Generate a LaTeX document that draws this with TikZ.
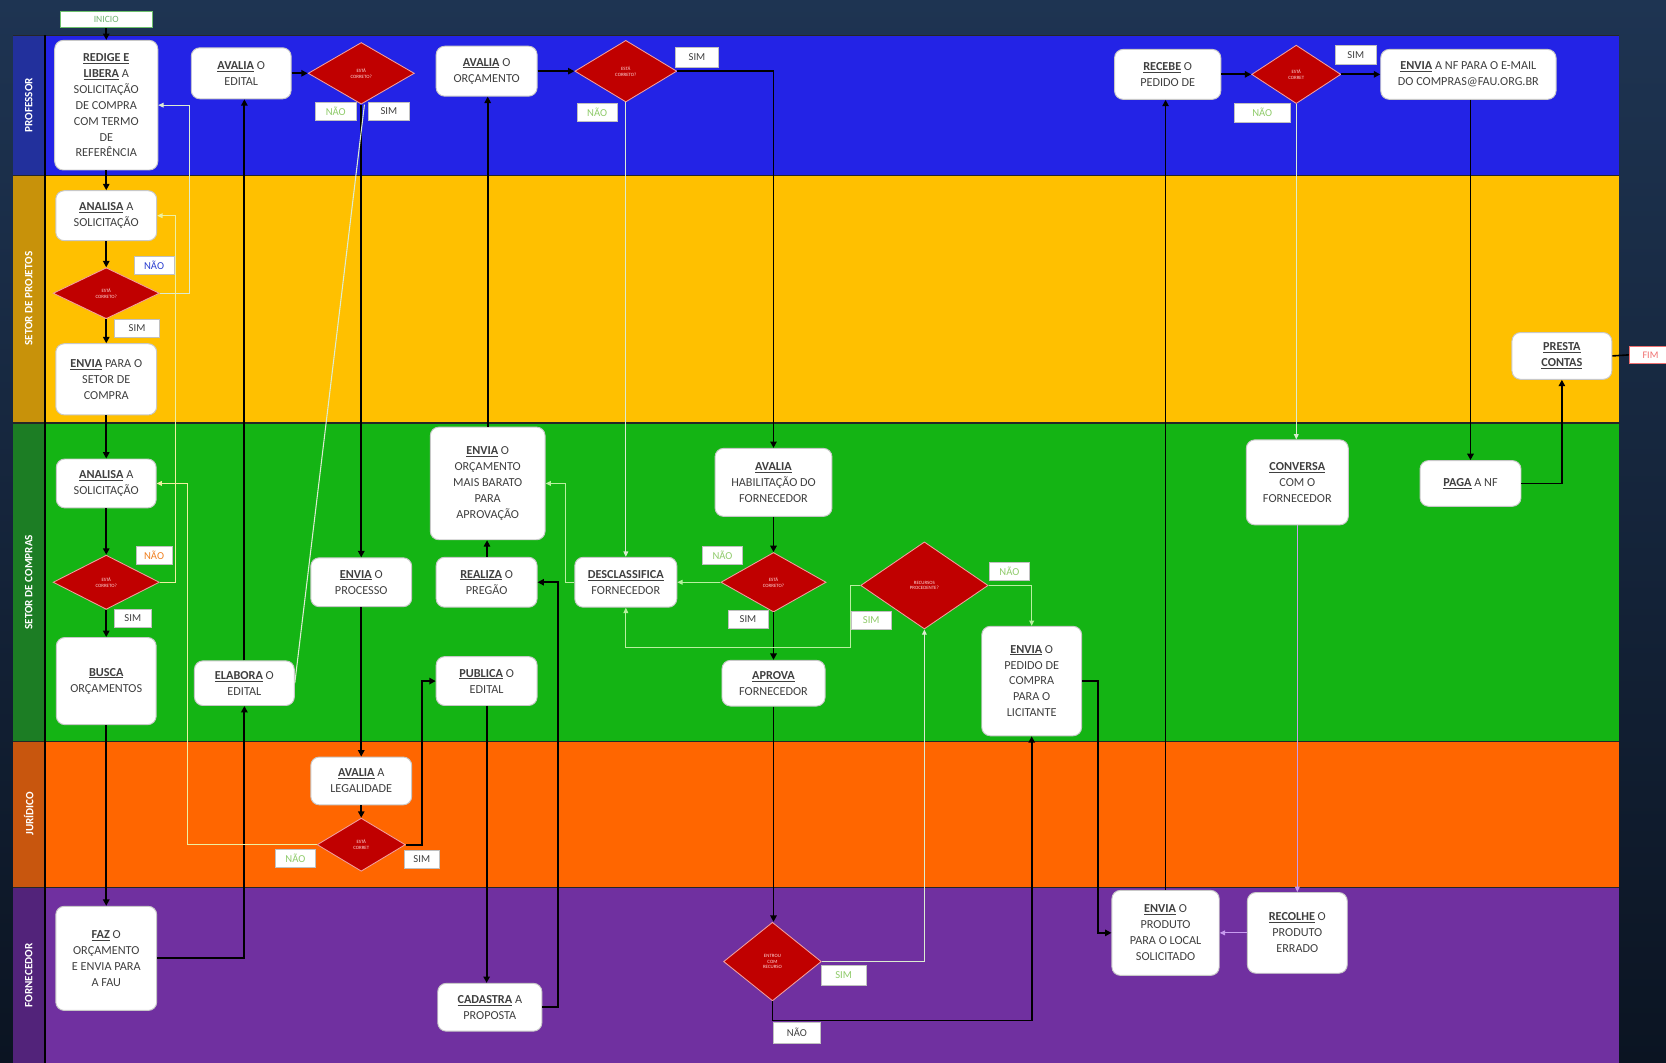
\documentclass[tikz,border=0pt]{standalone}
\usepackage{fontspec}
\setmainfont{Carlito}
\usetikzlibrary{shapes.geometric,arrows.meta,calc}

\definecolor{bgTop}{HTML}{1E3452}
\definecolor{bgBot}{HTML}{0B1422}
\definecolor{profBlue}{HTML}{2323E6}
\definecolor{profCol}{HTML}{22309C}
\definecolor{projGold}{HTML}{FFC000}
\definecolor{projCol}{HTML}{C8920A}
\definecolor{compGreen}{HTML}{14B414}
\definecolor{compCol}{HTML}{1C7D24}
\definecolor{jurOrange}{HTML}{FF6600}
\definecolor{jurCol}{HTML}{C8560E}
\definecolor{fornPurple}{HTML}{7030A0}
\definecolor{fornCol}{HTML}{52237A}
\definecolor{txt}{HTML}{404040}
\definecolor{boxline}{HTML}{C8C8C8}
\definecolor{diared}{HTML}{C00000}
\definecolor{diaedge}{HTML}{F2A0A0}
\definecolor{diatext}{HTML}{FFD8D8}
\definecolor{tagline}{HTML}{C0C0C0}
\definecolor{tagGreen}{HTML}{8FCB6A}
\definecolor{tagBlue}{HTML}{2A3FD0}
\definecolor{tagOrange}{HTML}{F08020}
\definecolor{lgWhite}{HTML}{DCEBD2}
\definecolor{lgGreen}{HTML}{B8F0A0}
\definecolor{lgYellow}{HTML}{EEF0A0}
\definecolor{lilac}{HTML}{C89CF0}
\definecolor{startGreen}{HTML}{6CC06C}
\definecolor{endRed}{HTML}{F07070}

\newcommand{\kw}[1]{\textbf{\underline{#1}}}
\newcommand{\boxfont}{\fontsize{11.5}{15}\selectfont}

\begin{document}
\begin{tikzpicture}[x=1pt,y=-1pt,
  box/.style={draw=boxline, line width=0.9pt, fill=white, rounded corners=8pt,
    text=txt, font=\boxfont, align=center, inner sep=1pt},
  dia/.style={diamond, draw=diaedge, line width=0.8pt, fill=diared, text=diatext,
    font=\fontsize{4.6}{5.4}\selectfont, align=center, inner sep=0pt},
  tag/.style={draw=tagline, line width=0.6pt, fill=white, text=txt,
    font=\fontsize{10}{10}\selectfont, minimum width=38pt, minimum height=17pt, inner sep=0pt},
  flow/.style={line width=1.7pt, draw=black, -{Triangle[length=6pt,width=6pt]}},
  back/.style={line width=1pt, -{Triangle[length=5pt,width=4.5pt]}},
  lanelabel/.style={rotate=90, text=white, font=\fontsize{10.5}{11}\selectfont\bfseries},
]
\useasboundingbox (0,0) rectangle (1568,1000);

% backdrop
\shade[top color=bgTop, bottom color=bgBot] (0,0) rectangle (1568,1000);

% swimlanes
\fill[profBlue]   (42,33)  rectangle (1524,165);
\fill[projGold]   (42,165) rectangle (1524,398);
\fill[compGreen]  (42,398) rectangle (1524,698);
\fill[jurOrange]  (42,698) rectangle (1524,835);
\fill[fornPurple] (42,835) rectangle (1524,1000);
\fill[profCol]  (12,33)  rectangle (42,165);
\fill[projCol]  (12,165) rectangle (42,398);
\fill[compCol]  (12,398) rectangle (42,698);
\fill[jurCol]   (12,698) rectangle (42,835);
\fill[fornCol]  (12,835) rectangle (42,1000);
\foreach \yy in {165,398,698,835}
  \draw[black!85, line width=1.2pt] (12,\yy) -- (1524,\yy);
\draw[black!85, line width=1pt] (12,33) -- (1524,33);
\draw[black, line width=2pt] (42,33) -- (42,1000);

\node[lanelabel] (labProf) at (27,99)  {PROFESSOR};
\node[lanelabel] (labProj) at (27,281) {SETOR DE PROJETOS};
\node[lanelabel] (labComp) at (27,548) {SETOR DE COMPRAS};
\node[lanelabel] (labJur)  at (27,766) {JURÍDICO};
\node[lanelabel] (labForn) at (27,918) {FORNECEDOR};

% start and end markers
\node[draw=startGreen, line width=0.8pt, fill=white, text=startGreen!80!gray,
  font=\fontsize{9}{9}\selectfont, minimum width=86, minimum height=15, inner sep=0pt]
  (inicio) at (100,18.5) {INICIO};
\node[draw=endRed, line width=0.8pt, fill=white, text=endRed,
  font=\fontsize{9.5}{9.5}\selectfont, minimum width=40, minimum height=16, inner sep=0pt,
  anchor=west] (fim) at (1533,334) {FIM};

% professor
\node[box, minimum width=97, minimum height=122] (redige) at (100,99)
  {\kw{REDIGE E}\\\kw{LIBERA} A\\SOLICITAÇÃO\\DE COMPRA\\COM TERMO\\DE\\REFERÊNCIA};
\node[box, minimum width=94, minimum height=48] (avEdital) at (227,69) {\kw{AVALIA} O\\EDITAL};
\node[dia, minimum width=100, minimum height=58] (d1) at (340,69) {ESTÁ\\CORRETO?};
\node[box, minimum width=95, minimum height=47] (avOrc) at (458,67) {\kw{AVALIA} O\\ORÇAMENTO};
\node[dia, minimum width=96, minimum height=58] (d2) at (589,67) {ESTÁ\\CORRETO?};
\node[box, minimum width=100, minimum height=47] (recebe) at (1099,70) {\kw{RECEBE} O\\PEDIDO DE};
\node[dia, minimum width=84, minimum height=55] (d3) at (1220,70) {ESTÁ\\CORRET};
\node[box, minimum width=165, minimum height=47] (envNF) at (1382,70)
  {\kw{ENVIA} A NF PARA O E-MAIL\\DO COMPRAS@FAU.ORG.BR};

% setor de projetos
\node[box, minimum width=95, minimum height=47] (anaP) at (100,203) {\kw{ANALISA} A\\SOLICITAÇÃO};
\node[dia, minimum width=100, minimum height=48] (d4) at (100,276) {ESTÁ\\CORRETO?};
\node[box, minimum width=95, minimum height=67] (envSet) at (100,357) {\kw{ENVIA} PARA O\\SETOR DE\\COMPRA};
\node[box, minimum width=94, minimum height=44] (presta) at (1470,335) {\kw{PRESTA}\\\kw{CONTAS}};

% setor de compras
\node[box, minimum width=94, minimum height=46] (anaC) at (100,455) {\kw{ANALISA} A\\SOLICITAÇÃO};
\node[dia, minimum width=100, minimum height=51] (d5) at (100,548) {ESTÁ\\CORRETO?};
\node[box, minimum width=94, minimum height=82] (busca) at (100,641) {\kw{BUSCA}\\ORÇAMENTOS};
\node[box, minimum width=94, minimum height=42] (elabora) at (230,643) {\kw{ELABORA} O\\EDITAL};
\node[box, minimum width=95, minimum height=46] (envProc) at (340,548) {\kw{ENVIA} O\\PROCESSO};
\node[box, minimum width=108, minimum height=106] (envOrc) at (459,455)
  {\kw{ENVIA} O\\ORÇAMENTO\\MAIS BARATO\\PARA\\APROVAÇÃO};
\node[box, minimum width=95, minimum height=47] (realiza) at (458,548) {\kw{REALIZA} O\\PREGÃO};
\node[box, minimum width=95, minimum height=46] (publica) at (458,641) {\kw{PUBLICA} O\\EDITAL};
\node[box, minimum width=96, minimum height=47] (descl) at (589,548) {\kw{DESCLASSIFICA}\\FORNECEDOR};
\node[box, minimum width=110, minimum height=64] (avHab) at (728,454) {\kw{AVALIA}\\HABILITAÇÃO DO\\FORNECEDOR};
\node[dia, minimum width=99, minimum height=56] (d6) at (728,548) {ESTÁ\\CORRETO?};
\node[box, minimum width=97, minimum height=43] (aprova) at (728,643) {\kw{APROVA}\\FORNECEDOR};
\node[dia, minimum width=120, minimum height=82] (d7) at (870,551) {RECURSOS\\PROCEDENTE?};
\node[box, minimum width=94, minimum height=103] (envPed) at (971,641)
  {\kw{ENVIA} O\\PEDIDO DE\\COMPRA\\PARA O\\LICITANTE};
\node[box, minimum width=96, minimum height=80] (conversa) at (1221,454) {\kw{CONVERSA}\\COM O\\FORNECEDOR};
\node[box, minimum width=95, minimum height=43] (paga) at (1384,455) {\kw{PAGA} A NF};

% juridico
\node[box, minimum width=95, minimum height=45] (legal) at (340,735) {\kw{AVALIA} A\\LEGALIDADE};
\node[dia, minimum width=83, minimum height=50] (d8) at (340,795) {ESTÁ\\CORRET};

% fornecedor
\node[box, minimum width=95, minimum height=98] (faz) at (100,902) {\kw{FAZ} O\\ORÇAMENTO\\E ENVIA PARA\\A FAU};
\node[box, minimum width=98, minimum height=45] (cadastra) at (461,948) {\kw{CADASTRA} A\\PROPOSTA};
\node[dia, minimum width=92, minimum height=74] (d9) at (727,905) {ENTROU\\COM\\RECURSO};
\node[box, minimum width=101, minimum height=80] (produto) at (1097,878)
  {\kw{ENVIA} O\\PRODUTO\\PARA O LOCAL\\SOLICITADO};
\node[box, minimum width=94, minimum height=76] (recolhe) at (1221,878) {\kw{RECOLHE} O\\PRODUTO\\ERRADO};

% main flow
\draw[flow] (inicio) -- (redige);
\draw[flow] (redige) -- (anaP);
\draw[flow] (anaP) -- (d4);
\draw[flow] (d4) -- (envSet);
\draw[flow] (envSet) -- (anaC);
\draw[flow] (anaC) -- (d5);
\draw[flow] (d5) -- (busca);
\draw[flow] (busca) -- (faz);
\draw[flow] (faz.east) -| (elabora.south);
\draw[flow] (elabora.north) -- (elabora.north |- avEdital.south);
\draw[flow] (avEdital) -- (d1);
\draw[flow] (d1.south) -- (envProc.north);
\draw[flow] (envProc) -- (legal);
\draw[flow] (legal) -- (d8);
\draw[flow] (d8.east) -- ++(15,0) |- (publica.west);
\draw[flow] (publica.south) -- (publica.south |- cadastra.north);
\draw[flow] (cadastra.east) -- ++(15,0) |- (realiza.east);
\draw[flow] (realiza) -- (envOrc);
\draw[flow] (envOrc.north) -- (envOrc.north |- avOrc.south);
\draw[flow] (avOrc) -- (d2);
\draw[flow] (d2.east) -| (avHab.north);
\draw[flow] (avHab) -- (d6);
\draw[flow] (d6) -- (aprova);
\draw[flow] (aprova.south) -- (aprova.south |- d9.north);
\draw[flow] (d9.south) -- ++(0,18) -| (envPed.south);
\draw[flow] (envPed.east) -- ++(15,0) |- (produto.west);
\draw[flow] (produto.north) -- (produto.north |- recebe.south);
\draw[flow] (recebe) -- (d3);
\draw[flow] (d3) -- (envNF);
\draw[flow] (envNF.south -| paga.north) -- (paga.north);
\draw[flow] (paga.east) -| (presta.south);
\draw[black, line width=1.5pt] (presta.east) -- (fim.west);

% return paths
\draw[back, draw=lgWhite] (d4.east) -- ++(28,0) |- (redige.east);
\draw[back, draw=lgYellow] (d5.east) -- ++(15,0) |- (anaP.east);
\draw[draw=lgWhite, line width=1pt] ($(d1.south)+(3,0)$) -- (elabora.east);
\draw[back, draw=lgYellow] (d8.west) -- ++(-122,0) |- (anaC.east);
\draw[back, draw=lgWhite] (d2.south) -- (descl.north);
\draw[back, draw=lgGreen] (descl.west) -- ++(-8,0) |- (envOrc.east);
\draw[back, draw=lgGreen] (d6.west) -- (descl.east);
\draw[back, draw=lgWhite] (d9.east) -| (d7.south);
\draw[back, draw=lgGreen] (d7.west) -- ++(-9,0) -- ++(0,58) -| (descl.south);
\draw[back, draw=lgGreen] (d7.east) -| (envPed.north);
\draw[back, draw=lgWhite] (d3.south) -- (d3.south |- conversa.north);
\draw[back, draw=lilac] (conversa.south) -- (conversa.south |- recolhe.north);
\draw[back, draw=lilac] (recolhe) -- (produto);

% decision tags
\node[tag, text=tagGreen] (t1n) at (316,105) {NÃO};
\node[tag] (t1s) at (366,105) {SIM};
\node[tag, minimum width=41, minimum height=19] (t2s) at (656,54) {SIM};
\node[tag, text=tagGreen] (t2n) at (562,106) {NÃO};
\node[tag, minimum height=18] (t3s) at (1276,52) {SIM};
\node[tag, text=tagGreen, minimum width=52, minimum height=18] (t3n) at (1188,106) {NÃO};
\node[tag, text=tagBlue] (t4n) at (145,250) {NÃO};
\node[tag, minimum width=42] (t4s) at (129,309) {SIM};
\node[tag, text=tagOrange, minimum width=34] (t5n) at (145,523) {NÃO};
\node[tag, minimum width=35] (t5s) at (125,582) {SIM};
\node[tag, text=tagGreen] (t6n) at (680,523) {NÃO};
\node[tag] (t6s) at (704,583) {SIM};
\node[tag, text=tagGreen] (t7n) at (950,538) {NÃO};
\node[tag, text=tagGreen] (t7s) at (820,584) {SIM};
\node[tag, text=tagGreen] (t8n) at (278,808) {NÃO};
\node[tag, minimum width=33] (t8s) at (397,809) {SIM};
\node[tag, text=tagGreen, minimum width=42, minimum height=19] (t9s) at (794,918) {SIM};
\node[tag, minimum width=44, minimum height=20] (t9n) at (750,972) {NÃO};
\end{tikzpicture}
\end{document}
